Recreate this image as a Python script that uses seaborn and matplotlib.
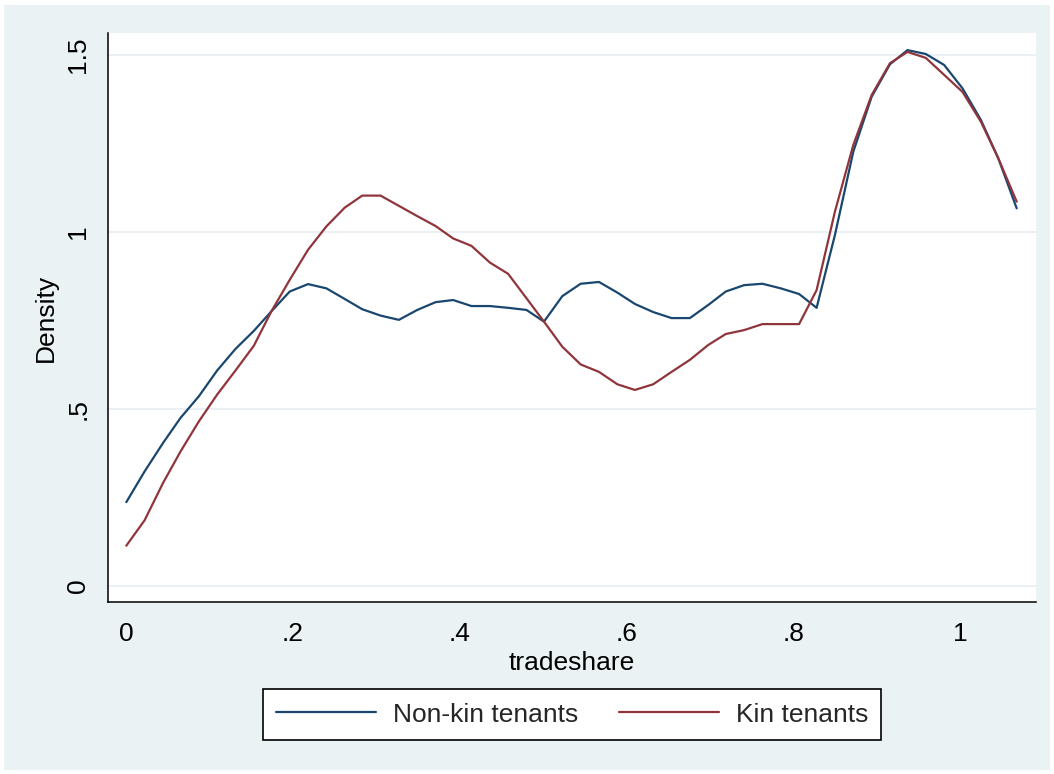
import numpy as np
import pandas as pd
import matplotlib
matplotlib.use("Agg")
import matplotlib.pyplot as plt
import seaborn as sns
from matplotlib.patches import Rectangle
from matplotlib.lines import Line2D

# ---- data ----
tradeshare = [0.000, 0.022, 0.044, 0.065, 0.087, 0.109, 0.131, 0.153, 0.174, 0.196,
              0.218, 0.240, 0.262, 0.283, 0.305, 0.327, 0.349, 0.371, 0.392, 0.414,
              0.436, 0.458, 0.480, 0.501, 0.523, 0.545, 0.567, 0.589, 0.610, 0.632,
              0.654, 0.676, 0.698, 0.719, 0.741, 0.763, 0.785, 0.807, 0.828, 0.850,
              0.872, 0.894, 0.916, 0.937, 0.959, 0.981, 1.003, 1.025, 1.046, 1.068]

nonkin_density = [0.236, 0.323, 0.403, 0.474, 0.535, 0.608, 0.669, 0.720, 0.775, 0.831,
                  0.852, 0.840, 0.810, 0.781, 0.763, 0.751, 0.779, 0.801, 0.807, 0.790,
                  0.790, 0.785, 0.779, 0.746, 0.818, 0.853, 0.858, 0.828, 0.796, 0.773,
                  0.756, 0.756, 0.793, 0.831, 0.849, 0.853, 0.840, 0.824, 0.785, 0.991,
                  1.226, 1.381, 1.473, 1.513, 1.502, 1.471, 1.405, 1.316, 1.207, 1.066]

kin_density = [0.113, 0.185, 0.290, 0.379, 0.464, 0.540, 0.608, 0.678, 0.775, 0.864,
               0.949, 1.015, 1.068, 1.102, 1.102, 1.073, 1.044, 1.016, 0.981, 0.960,
               0.913, 0.881, 0.812, 0.746, 0.675, 0.625, 0.604, 0.569, 0.553, 0.569,
               0.604, 0.638, 0.680, 0.711, 0.722, 0.739, 0.739, 0.739, 0.835, 1.057,
               1.245, 1.386, 1.476, 1.508, 1.491, 1.443, 1.395, 1.311, 1.207, 1.085]

series_names = ["Non-kin tenants", "Kin tenants"]
series_colors = ["#1A476F", "#90353B"]
y_ticks = [0, 0.5, 1, 1.5]
y_tick_labels = ["0", ".5", "1", "1.5"]
x_ticks = [0, 0.2, 0.4, 0.6, 0.8, 1.0]
x_tick_labels = ["0", ".2", ".4", ".6", ".8", "1"]

df = pd.concat([
    pd.DataFrame({"tradeshare": tradeshare, "Density": nonkin_density, "group": series_names[0]}),
    pd.DataFrame({"tradeshare": tradeshare, "Density": kin_density, "group": series_names[1]}),
], ignore_index=True)

# ---- style ----
sns.set_style("white")
plt.rcParams["font.family"] = ["Liberation Sans", "DejaVu Sans"]
FS = 19
bg = "#EAF2F3"

W, H = 1054, 774
fig = plt.figure(figsize=(W / 100, H / 100), dpi=100, facecolor="white")
fig.patches.append(Rectangle((4 / W, 4 / H), (1050 - 4) / W, (770 - 5) / H,
                             transform=fig.transFigure, facecolor=bg,
                             edgecolor="none", zorder=-10))

left, right = 108.3 / W, 1035.7 / W
bottom, top = 1 - 602.3 / H, 1 - 33.3 / H
ax = fig.add_axes([left, bottom, right - left, top - bottom])
ax.set_facecolor("white")

sns.lineplot(data=df, x="tradeshare", y="Density", hue="group",
             hue_order=series_names, palette=series_colors,
             estimator=None, sort=True, linewidth=1.6, ax=ax, legend=False)

ax.set_xlim(-0.0216, 1.0908)
ax.set_ylim(-0.0469, 1.5605)

ax.set_yticks(y_ticks)
ax.set_yticklabels(y_tick_labels, rotation=90, va="center", fontsize=FS)
ax.set_xticks(x_ticks)
ax.set_xticklabels(x_tick_labels, fontsize=FS)

ax.yaxis.grid(True, color="#E6EEF1", linewidth=1.2)
ax.xaxis.grid(False)
ax.set_axisbelow(True)

for s in ["top", "right"]:
    ax.spines[s].set_visible(False)
for s in ["left", "bottom"]:
    ax.spines[s].set_color("black")
    ax.spines[s].set_linewidth(1.1)

ax.tick_params(axis="both", which="major", direction="out", length=8, width=1.1,
               color="black", labelcolor="black")
ax.tick_params(axis="y", pad=5)
ax.tick_params(axis="x", pad=6)

ax.set_xlabel("tradeshare", fontsize=FS, labelpad=4)
ax.set_ylabel("Density", fontsize=FS, labelpad=6, color="black")
ax.xaxis.label.set_color("black")

handles = [Line2D([0], [0], color=c, lw=1.6) for c in series_colors]
leg = fig.legend(handles, series_names, loc="center",
                 bbox_to_anchor=((left + right) / 2, 1 - 714.5 / H),
                 ncol=2, fontsize=FS, frameon=True, fancybox=False,
                 handlelength=3.8, handletextpad=0.62, columnspacing=1.55,
                 borderpad=0.5, borderaxespad=0, edgecolor="black",
                 facecolor="white", framealpha=1)
leg.get_frame().set_linewidth(1.2)

fig.savefig("out.png", dpi=100, facecolor="white")
